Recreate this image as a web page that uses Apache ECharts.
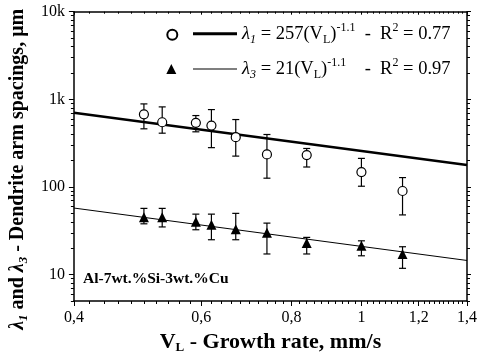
<!DOCTYPE html>
<html><head><meta charset="utf-8">
<script src="https://cdn.jsdelivr.net/npm/echarts@6/dist/echarts.min.js"></script>
<style>html,body{margin:0;padding:0;background:#fff}#c{width:480px;height:359px}</style>
</head><body><div id="c"></div>
<script>
// ---- data ----
const velocity = [0.5, 0.53, 0.59, 0.62, 0.67, 0.74, 0.84, 1.0, 1.14];
const lambda1 = [675, 548, 539, 502, 370, 235, 231, 148, 90];
const lambda1Low = [461, 411, 426, 281, 225, 126, 169, 102, 48];
const lambda1High = [887, 820, 653, 764, 588, 397, 275, 212, 128];
const lambda3 = [45, 45, 40, 37, 33, 30, 23, 21.4, 17.2];
const lambda3Low = [38, 35, 32.5, 25, 25, 17.2, 17.2, 16.4, 11.8];
const lambda3High = [57, 57, 49, 49, 50, 38.7, 26.6, 24.3, 20.8];
const fitX = [0.4, 1.4];
const fit1Y = [704, 178];
const fit3Y = [57.5, 14.5];
const xTickLabels = [0.4, 0.6, 0.8, 1.0, 1.2, 1.4];
const yTickLabels = [10, 100, 1000, 10000];
const xMinorTicks = [];
for (let i = 21; i < 70; i++) { if (i % 10 !== 0) xMinorTicks.push(i / 50); }
const yMinorTicks = [];
[1, 10, 100, 1000].forEach(d => { for (let k = 2; k <= 9; k++) { const v = k * d; if (v >= 5) yMinorTicks.push(v); } });

const L = Math.log10;
const SERIF = '"Liberation Serif","Times New Roman",serif';
const XMIN = L(0.4), XMAX = L(1.4), YMIN = L(5), YMAX = L(10000);

function fmtX(v) {
  const r = Math.round(Math.pow(10, v) * 10) / 10;
  return r === 1 ? '1' : r.toFixed(1).replace('.', ',');
}
function fmtY(v) {
  const r = Math.round(Math.pow(10, v));
  return r >= 1000 ? (r / 1000) + 'k' : String(r);
}

function xAx(pos, vals, len, inside, labels, lineShow, extra) {
  return Object.assign({
    type: 'value', position: pos, min: XMIN, max: XMAX,
    axisLine: { show: lineShow, onZero: false, lineStyle: { color: '#000', width: 1.5 } },
    axisTick: { show: true, inside: inside, length: len, customValues: vals.map(L), lineStyle: { color: '#000', width: 1 } },
    axisLabel: labels ? { show: true, customValues: vals.map(L), formatter: fmtX, fontFamily: SERIF, fontSize: 16, color: '#000', margin: 9 } : { show: false },
    splitLine: { show: false }
  }, extra || {});
}
function yAx(pos, vals, len, inside, labels, lineShow, extra) {
  return Object.assign({
    type: 'value', position: pos, min: YMIN, max: YMAX,
    axisLine: { show: lineShow, onZero: false, lineStyle: { color: '#000', width: 1.5 } },
    axisTick: { show: true, inside: inside, length: len, customValues: vals.map(L), lineStyle: { color: '#000', width: 1 } },
    axisLabel: labels ? { show: true, customValues: vals.map(L), formatter: fmtY, fontFamily: SERIF, fontSize: 16, color: '#000', margin: 9 } : { show: false },
    splitLine: { show: false }
  }, extra || {});
}

function boldRich(fs) {
  return {
    t: { fontFamily: SERIF, fontSize: fs, fontWeight: 'bold', color: '#000', lineHeight: 24 },
    l: { fontFamily: SERIF, fontSize: fs, fontWeight: 'bold', fontStyle: 'italic', color: '#000', lineHeight: 24 },
    s: { fontFamily: SERIF, fontSize: 13, fontWeight: 'bold', fontStyle: 'italic', color: '#000', verticalAlign: 'bottom', lineHeight: 14 },
    sl: { fontFamily: SERIF, fontSize: 13, fontWeight: 'bold', color: '#000', verticalAlign: 'bottom', lineHeight: 12 }
  };
}
const legRich = {
  t: { fontFamily: SERIF, fontSize: 18.5, color: '#000', lineHeight: 24 },
  l: { fontFamily: SERIF, fontSize: 18.5, fontStyle: 'italic', color: '#000', lineHeight: 24 },
  s: { fontFamily: SERIF, fontSize: 12, fontStyle: 'italic', color: '#000', verticalAlign: 'bottom', lineHeight: 15 },
  sl: { fontFamily: SERIF, fontSize: 12, color: '#000', verticalAlign: 'bottom', lineHeight: 12 },
  sp: { fontFamily: SERIF, fontSize: 12, color: '#000', verticalAlign: 'top', lineHeight: 12 }
};

function errRender(params, api) {
  const x = api.value(0), lo = api.value(1), hi = api.value(2);
  const pl = api.coord([x, lo]), ph = api.coord([x, hi]);
  const st = { stroke: '#000', lineWidth: 1.2, fill: null };
  const w = 3.5;
  return { type: 'group', children: [
    { type: 'line', shape: { x1: pl[0], y1: pl[1], x2: ph[0], y2: ph[1] }, style: st },
    { type: 'line', shape: { x1: pl[0] - w, y1: pl[1], x2: pl[0] + w, y2: pl[1] }, style: st },
    { type: 'line', shape: { x1: ph[0] - w, y1: ph[1], x2: ph[0] + w, y2: ph[1] }, style: st }
  ] };
}

const legendLabels = {
  f1: '{l|λ}{s|1}{t| = 257(V}{sl|L}{t|)}{sp|-1.1}{t|  -  R}{sp|2}{t| = 0.77}',
  f3: '{l|λ}{s|3}{t| = 21(V}{sl|L}{t|)}{sp|-1.1}{t|    -  R}{sp|2}{t| = 0.97}'
};

const chart = echarts.init(document.getElementById('c'), null, { renderer: 'canvas' });
chart.setOption({
  animation: false,
  backgroundColor: '#fff',
  grid: { left: 73.3, right: 12.3, top: 11.7, bottom: 56.7, containLabel: false },
  xAxis: [
    xAx('bottom', xTickLabels, 5, false, true, true, {
      name: '{t|V}{sl|L}{t| - Growth rate, mm/s}', nameLocation: 'middle', nameGap: 29,
      nameTextStyle: { rich: boldRich(22) }
    }),
    xAx('bottom', xMinorTicks, 3, false, false, false),
    xAx('top', xTickLabels, 3, true, false, true),
    xAx('top', xMinorTicks, 2, true, false, false)
  ],
  yAxis: [
    yAx('left', yTickLabels, 5, false, true, true, {
      name: '{l|λ}{s|1}{t| and }{l|λ}{s|3}{t| - Dendrite arm spacings, μm}', nameLocation: 'middle', nameGap: 42,
      nameTextStyle: { rich: boldRich(20), padding: [0, 26, 0, 0] }
    }),
    yAx('left', yMinorTicks, 3, false, false, false),
    yAx('right', yTickLabels, 4, false, false, true),
    yAx('right', yMinorTicks, 3, false, false, false)
  ],
  legend: [
    { data: ['p1'], left: 166.3, top: 28.7, padding: 0, itemWidth: 10, itemHeight: 10, formatter: () => '', selectedMode: false, textStyle: { fontSize: 1 } },
    { data: ['p3'], left: 166.3, top: 64, padding: 0, itemWidth: 10, itemHeight: 10, formatter: () => '', selectedMode: false, textStyle: { fontSize: 1 } },
    { data: ['f1'], left: 193, top: 21.7, padding: 0, icon: 'rect', itemWidth: 44, itemHeight: 3, selectedMode: false, formatter: n => legendLabels[n], textStyle: { rich: legRich } },
    { data: ['f3'], left: 193, top: 57, padding: 0, icon: 'rect', itemWidth: 44, itemHeight: 1, selectedMode: false, formatter: n => legendLabels[n], textStyle: { rich: legRich } }
  ],
  graphic: [
    { type: 'text', left: 83, top: 271, style: { text: 'Al-7wt.%Si-3wt.%Cu', font: 'bold 15.5px ' + SERIF, fill: '#000' } }
  ],
  series: [
    { type: 'custom', name: 'e1', renderItem: errRender, z: 2, encode: { x: 0, y: [1, 2] },
      data: velocity.map((v, i) => [L(v), L(lambda1Low[i]), L(lambda1High[i])]) },
    { type: 'custom', name: 'e3', renderItem: errRender, z: 2, encode: { x: 0, y: [1, 2] },
      data: velocity.map((v, i) => [L(v), L(lambda3Low[i]), L(lambda3High[i])]) },
    { type: 'line', name: 'f1', symbol: 'none', z: 3, lineStyle: { color: '#000', width: 2.5 }, itemStyle: { color: '#000' },
      data: fitX.map((x, i) => [L(x), L(fit1Y[i])]) },
    { type: 'line', name: 'f3', symbol: 'none', z: 3, lineStyle: { color: '#000', width: 1 }, itemStyle: { color: '#000' },
      data: fitX.map((x, i) => [L(x), L(fit3Y[i])]) },
    { type: 'scatter', name: 'p1', symbol: 'circle', symbolSize: 9, z: 5,
      itemStyle: { color: '#fff', borderColor: '#000', borderWidth: 1.2, opacity: 1 },
      data: velocity.map((v, i) => [L(v), L(lambda1[i])]) },
    { type: 'scatter', name: 'p3', symbol: 'triangle', symbolSize: 10, z: 5,
      itemStyle: { color: '#000', opacity: 1 },
      data: velocity.map((v, i) => [L(v), L(lambda3[i])]) }
  ]
});
</script>
</body></html>
